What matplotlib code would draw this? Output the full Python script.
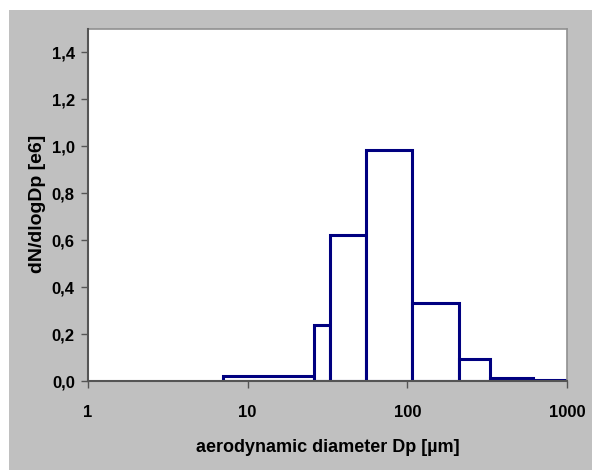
import numpy as np
import matplotlib.pyplot as plt
from matplotlib.patches import Rectangle

plt.rcParams['font.family'] = ['Liberation Sans', 'DejaVu Sans']

# size bin edges (um) and dN/dlogDp values (e6)
bin_edges = [7, 26, 33, 55, 107, 211, 329, 614, 1000]
dn_dlogdp = [0.02, 0.24, 0.624, 0.983, 0.332, 0.094, 0.013, 0.006]
x_ticks = [1, 10, 100, 1000]
x_tick_labels = ['1', '10', '100', '1000']
y_ticks = [0.0, 0.2, 0.4, 0.6, 0.8, 1.0, 1.2, 1.4]
y_tick_labels = ['0,0', '0,2', '0,4', '0,6', '0,8', '1,0', '1,2', '1,4']

fig = plt.figure(figsize=(5.92, 4.70), dpi=100, facecolor='white')
# grey chart area like the excel frame
fig.patches.append(Rectangle((9 / 592, 0), 1, 1 - 10 / 470, transform=fig.transFigure,
                             facecolor='#C0C0C0', edgecolor='none', zorder=-10))

ax = fig.add_axes([88 / 592, 89 / 470, 479 / 592, 352 / 470])
ax.set_facecolor('white')

left = np.array(bin_edges[:-1])
widths = np.diff(bin_edges)
ax.bar(left, dn_dlogdp, width=widths, align='edge', facecolor='white',
       edgecolor='#000080', linewidth=2.2, zorder=2)

ax.set_xscale('log')
ax.set_xlim(1, 1000)
ax.set_ylim(0, 1.5)
ax.set_xticks(x_ticks)
ax.set_xticklabels(x_tick_labels)
ax.xaxis.set_minor_locator(plt.NullLocator())
ax.set_yticks(y_ticks)
ax.set_yticklabels(y_tick_labels)

ax.tick_params(axis='x', direction='out', length=5, width=1, color='#555555',
               pad=12, labelsize=12)
ax.tick_params(axis='y', direction='out', length=5, width=1, color='#555555',
               pad=4.5, labelsize=12)
for lab in ax.get_xticklabels() + ax.get_yticklabels():
    lab.set_fontweight('bold')

for side in ['left', 'bottom']:
    ax.spines[side].set_color('#555555')
    ax.spines[side].set_linewidth(1.5)
    ax.spines[side].set_zorder(3)
for side in ['top', 'right']:
    ax.spines[side].set_color('#909090')
    ax.spines[side].set_linewidth(1.2)

fig.text(328 / 592, 1 - 447 / 470, 'aerodynamic diameter Dp [µm]', ha='center', va='center',
         fontsize=13, fontweight='bold')
fig.text(37 / 592, 1 - 204 / 470, 'dN/dlogDp [e6]', ha='center', va='center',
         rotation=90, fontsize=14, fontweight='bold')

fig.savefig('out.png', dpi=100, facecolor='white')
